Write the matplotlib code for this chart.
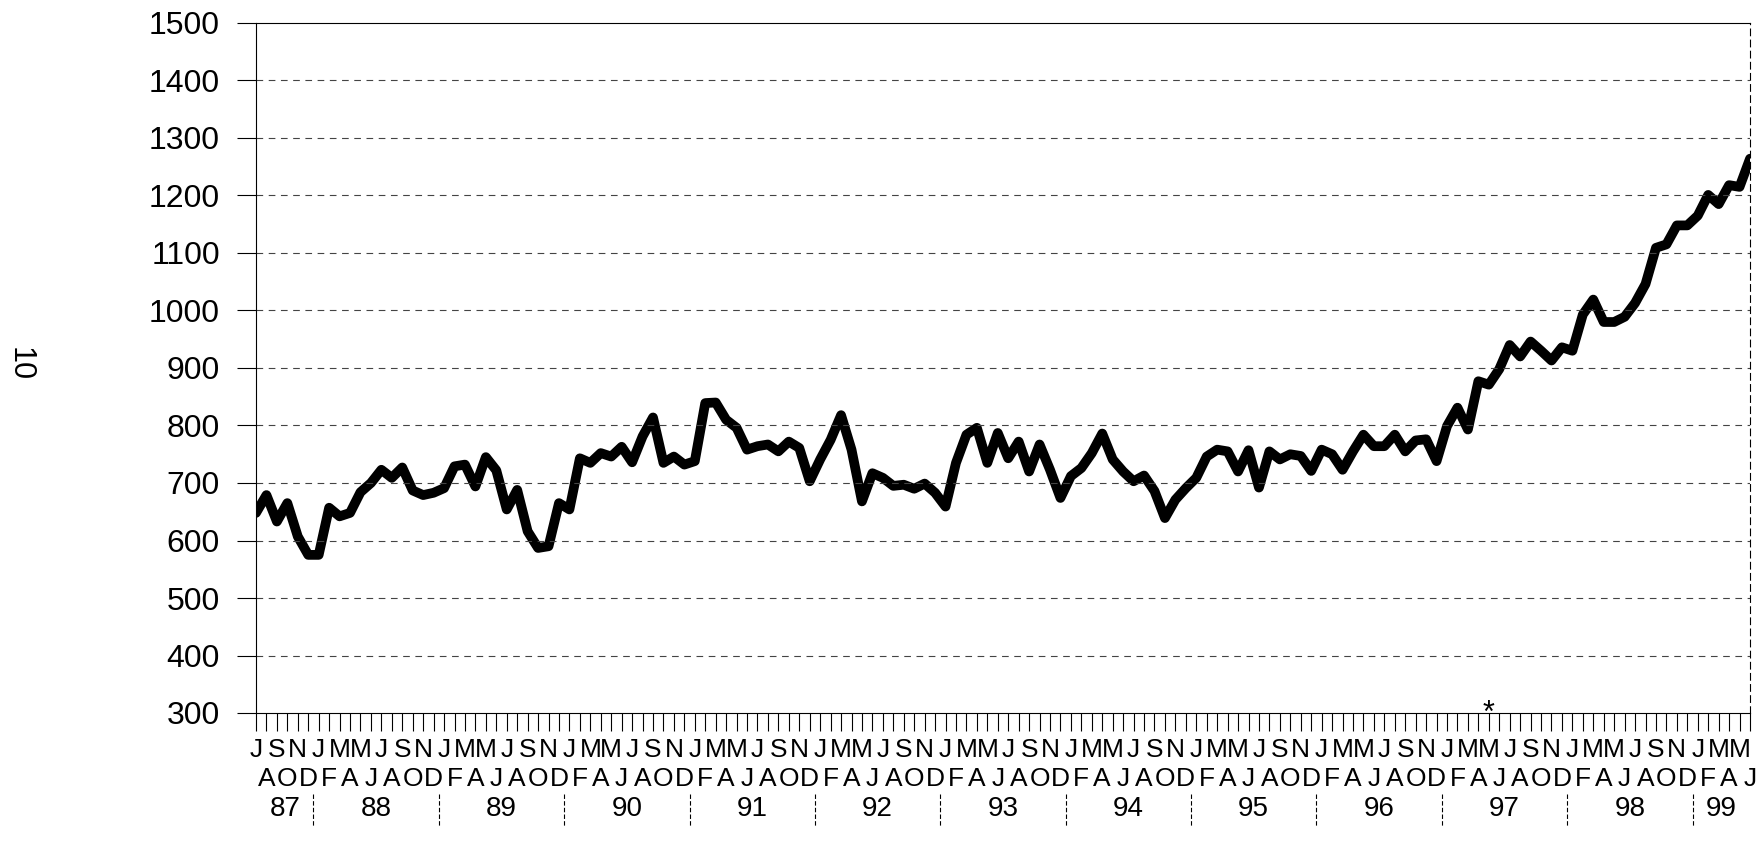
import matplotlib
matplotlib.use("Agg")
import matplotlib.pyplot as plt
import matplotlib.transforms as mtransforms

# monthly values, Jul 1987 .. Jun 1999
values = [
    648, 679, 633, 665, 607, 575,                                  # 87
    575, 657, 642, 648, 684, 700, 723, 709, 727, 687, 679, 683,    # 88
    691, 729, 732, 694, 745, 722, 654, 688, 616, 587, 590, 665,    # 89
    654, 743, 735, 752, 746, 763, 736, 781, 814, 735, 746, 732,    # 90
    738, 839, 840, 810, 796, 758, 764, 767, 755, 772, 761, 703,    # 91
    741, 775, 818, 758, 668, 717, 709, 695, 697, 690, 699, 683,    # 92
    659, 735, 784, 796, 735, 787, 743, 772, 720, 767, 723, 674,    # 93
    712, 726, 752, 786, 741, 720, 703, 713, 686, 639, 671, 691,    # 94
    709, 746, 758, 755, 720, 757, 692, 755, 741, 750, 747, 721,    # 95
    758, 750, 723, 755, 784, 764, 764, 784, 755, 774, 776, 738,    # 96
    799, 831, 793, 877, 871, 898, 940, 920, 946, 930, 913, 936,    # 97
    930, 993, 1019, 980, 980, 989, 1013, 1046, 1109, 1115, 1148, 1148,  # 98
    1165, 1201, 1185, 1218, 1215, 1264,                            # 99
]
month_letters = ["J", "F", "M", "A", "M", "J", "J", "A", "S", "O", "N", "D"]
first_month = 6  # July
years = ["87", "88", "89", "90", "91", "92", "93", "94", "95", "96", "97", "98", "99"]
y_ticks = list(range(300, 1501, 100))

font = ["Liberation Sans Narrow", "Liberation Sans", "DejaVu Sans"]
plt.rcParams["font.family"] = font

W, H = 1758, 850
fig = plt.figure(figsize=(W / 100, H / 100), dpi=100)
ax = fig.add_axes([256 / W, 1 - 713 / H, (1750 - 256) / W, (713 - 23) / H])

x = list(range(len(values)))
ax.plot(x, values, color="black", lw=7, solid_joinstyle="round", solid_capstyle="round")

ax.set_xlim(0, len(values) - 1)
ax.set_ylim(300, 1500)
ax.set_yticks(y_ticks)
ax.set_yticklabels([str(v) for v in y_ticks], fontsize=23)
ax.tick_params(axis="y", direction="out", length=14, width=0.8, pad=12)
ax.set_xticks(x)
ax.set_xticklabels([])
ax.tick_params(axis="x", direction="out", length=13, width=0.8)

for v in y_ticks[1:-1]:
    ax.axhline(v, color="#444444", lw=0.8, ls=(0, (6, 5)))

ax.spines["right"].set_linestyle((0, (6, 4)))
for s in ax.spines.values():
    s.set_linewidth(0.8)

# month letters in two rows, years underneath
tr = mtransforms.blended_transform_factory(ax.transData, fig.transFigure)
for i in x:
    letter = month_letters[(first_month + i) % 12]
    ypos = 1 - 750 / H if i % 2 == 0 else 1 - 779 / H
    ax.text(i, ypos, letter, transform=tr, ha="center", va="center",
            fontsize=19, clip_on=False)

n = len(values)
jan_idx = [i for i in x if (first_month + i) % 12 == 0]
bounds = [-0.5] + [j - 0.5 for j in jan_idx] + [n - 0.5]
for k, yr in enumerate(years):
    c = (max(bounds[k], 0) + min(bounds[k + 1], n - 1)) / 2
    ax.text(c, 1 - 809 / H, yr, transform=tr, ha="center", va="center",
            fontsize=20, clip_on=False)
for j in jan_idx:
    ax.plot([j - 0.5, j - 0.5], [1 - 794 / H, 1 - 827 / H], transform=tr, color="black",
            lw=0.8, ls=(0, (4, 2)), clip_on=False)

ax.text(118, 285, "*", ha="center", va="baseline", fontsize=22, clip_on=False)
fig.text(20 / W, 1 - 364 / H, "10", rotation=-90, ha="center", va="center", fontsize=22)

fig.savefig("out.png", dpi=100)
